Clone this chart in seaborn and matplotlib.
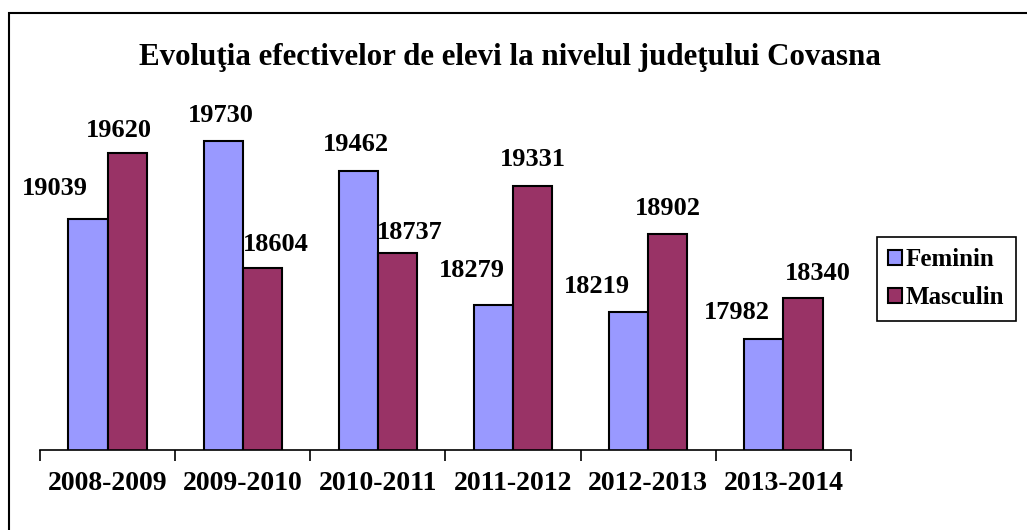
import numpy as np
import pandas as pd
import matplotlib
matplotlib.use("Agg")
import matplotlib.pyplot as plt
import matplotlib.patches as mpatches
import seaborn as sns

years = ['2008-2009', '2009-2010', '2010-2011', '2011-2012', '2012-2013', '2013-2014']
feminin = [19039, 19730, 19462, 18279, 18219, 17982]
masculin = [19620, 18604, 18737, 19331, 18902, 18340]
series = ['Feminin', 'Masculin']
colors = ['#9999FF', '#993366']

# label nudges in pixels (Excel places them to avoid overlaps)
dx_fem = [-33, -2, -2, -22, -32, -27]
dx_mas = [-8, 13, 12, 0, 0, 15]
dy_fem = [19, 14, 15, 23, 14, 15]
dy_mas = [11, 12, 9, 15, 14, 13]

df = pd.DataFrame({
    'an': years * 2,
    'elevi': feminin + masculin,
    'sex': ['Feminin'] * len(years) + ['Masculin'] * len(years),
})

sns.set_style('white')
plt.rcParams['font.family'] = ['Liberation Serif', 'DejaVu Serif']
plt.rcParams['font.weight'] = 'bold'
plt.rcParams['text.color'] = 'black'
plt.rcParams['xtick.color'] = 'black'

W, H = 1027, 530
fig = plt.figure(figsize=(W / 100, H / 100), dpi=100)
ax = fig.add_axes([40 / W, 1 - 450 / H, (851 - 40) / W, 340 / H])

sns.barplot(data=df, x='an', y='elevi', hue='sex', order=years, hue_order=series,
            palette=colors, width=0.58, edgecolor='black', linewidth=1.5,
            saturation=1, legend=False, ax=ax)

ax.set_ylim(17000, 20000)
ax.set_xlim(-0.5, len(years) - 0.5)
ax.set_xlabel('')
ax.set_ylabel('')
ax.set_yticks([])
for s in ['left', 'top', 'right']:
    ax.spines[s].set_visible(False)
ax.spines['bottom'].set_linewidth(1.2)
ax.spines['bottom'].set_color('black')

ax.set_xticks(range(len(years)))
ax.set_xticklabels(years, fontsize=20, fontweight='bold', color='black')
ax.tick_params(axis='x', which='major', bottom=True, length=0, pad=15)
ax.set_xticks(np.arange(-0.5, len(years), 1.0), minor=True)
ax.tick_params(axis='x', which='minor', bottom=True, length=8, width=1.2,
               color='black', direction='out')

for cont, dxs, dys in zip(ax.containers, [dx_fem, dx_mas], [dy_fem, dy_mas]):
    for bar, dx, dy in zip(cont, dxs, dys):
        ax.annotate(f'{int(bar.get_height())}',
                    xy=(bar.get_x() + bar.get_width() / 2, bar.get_height()),
                    xytext=(dx, dy), textcoords='offset pixels',
                    ha='center', va='bottom', fontsize=19, fontweight='bold',
                    color='black')

fig.text(510 / W, 1 - 57 / H, 'Evoluţia efectivelor de elevi la nivelul judeţului Covasna',
         ha='center', va='center', fontsize=22.3, fontweight='bold', color='black')

handles = [mpatches.Patch(facecolor=c, edgecolor='black', linewidth=1.5, label=s)
           for c, s in zip(colors, series)]
leg = fig.legend(handles=handles, loc='upper left', bbox_to_anchor=(877 / W, 1 - 237 / H),
                 bbox_transform=fig.transFigure, frameon=True, fancybox=False,
                 edgecolor='black', framealpha=1, borderaxespad=0,
                 handlelength=0.55, handleheight=0.55, handletextpad=0.15,
                 labelspacing=0.6, borderpad=0.45, prop={'size': 18, 'weight': 'bold'})
leg.get_frame().set_linewidth(1.2)
for t in leg.get_texts():
    t.set_color('black')

fig.patches.append(mpatches.Rectangle((9 / W, -0.1), 1.2, 1 - 13 / H + 0.1,
                                      transform=fig.transFigure, fill=False,
                                      edgecolor='black', linewidth=1.5))

fig.savefig('out.png', dpi=100)
